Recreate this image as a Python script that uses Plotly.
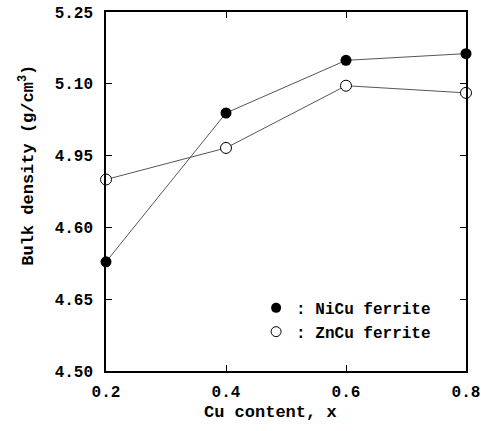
import plotly.graph_objects as go

cu_content = [0.2, 0.4, 0.6, 0.8]
nicu_density = [4.728, 5.039, 5.149, 5.163]
zncu_density = [4.900, 4.966, 5.096, 5.081]
y_tick_vals = [4.50, 4.65, 4.80, 4.95, 5.10, 5.25]
y_tick_text = ["4.50", "4.65", "4.60", "4.95", "5.10", "5.25"]
x_tick_vals = [0.2, 0.4, 0.6, 0.8]
x_tick_text = ["0.2", "0.4", "0.6", "0.8"]

FONT = "Liberation Mono"
fig = go.Figure()
fig.add_trace(go.Scatter(x=cu_content, y=nicu_density, mode="lines+markers",
                         line=dict(color="#555", width=1),
                         marker=dict(symbol="circle", size=11, color="black"),
                         showlegend=False, cliponaxis=False))
fig.add_trace(go.Scatter(x=cu_content, y=zncu_density, mode="lines+markers",
                         line=dict(color="#555", width=1),
                         marker=dict(symbol="circle", size=11, color="white",
                                     line=dict(color="black", width=1)),
                         showlegend=False, cliponaxis=False))
fig.add_trace(go.Scatter(x=[None], y=[None], mode="markers", name=": NiCu ferrite",
                         marker=dict(symbol="circle", size=10, color="black")))
fig.add_trace(go.Scatter(x=[None], y=[None], mode="markers", name=": ZnCu ferrite",
                         marker=dict(symbol="circle", size=10, color="white",
                                     line=dict(color="black", width=1))))

axis_common = dict(showline=True, linecolor="black", linewidth=1.5, mirror="ticks",
                   ticks="inside", ticklen=6, tickcolor="black", tickwidth=1,
                   showgrid=False, zeroline=False, automargin=False)
fig.update_xaxes(range=[0.2, 0.8], tickvals=x_tick_vals, ticktext=x_tick_text,
                 tickfont=dict(family=FONT, size=16, color="black"),
                 ticklabelstandoff=5, **axis_common)
fig.update_yaxes(range=[4.50, 5.25], tickvals=y_tick_vals, ticktext=y_tick_text,
                 tickfont=dict(family=FONT, size=16, color="black"),
                 ticklabelstandoff=8, **axis_common)
fig.add_annotation(text="<b>Bulk density (g/cm<sup>3</sup>)</b>", xref="paper", yref="paper",
                   x=-0.22, y=0.574, xanchor="center", yanchor="middle", textangle=-90,
                   showarrow=False, font=dict(family=FONT, size=17, color="black"))
fig.add_annotation(text="<b>Cu content, x</b>", xref="paper", yref="paper",
                   x=0.458, y=-0.115, xanchor="center", yanchor="middle",
                   showarrow=False, font=dict(family=FONT, size=17, color="black"))
fig.update_layout(width=481, height=431, margin=dict(l=106, r=15, t=12, b=60),
                  plot_bgcolor="white", paper_bgcolor="white",
                  font=dict(family=FONT, size=16, color="black", weight="bold"),
                  legend=dict(x=0.417, y=0.223, xanchor="left", yanchor="top",
                              bgcolor="rgba(0,0,0,0)", tracegroupgap=0,
                              font=dict(family=FONT, size=16, color="black", weight="bold"),
                              itemwidth=30))
fig.write_html("out.html", config={"displayModeBar": False},
               post_script="document.body.style.margin='0';document.body.style.overflow='hidden';")
